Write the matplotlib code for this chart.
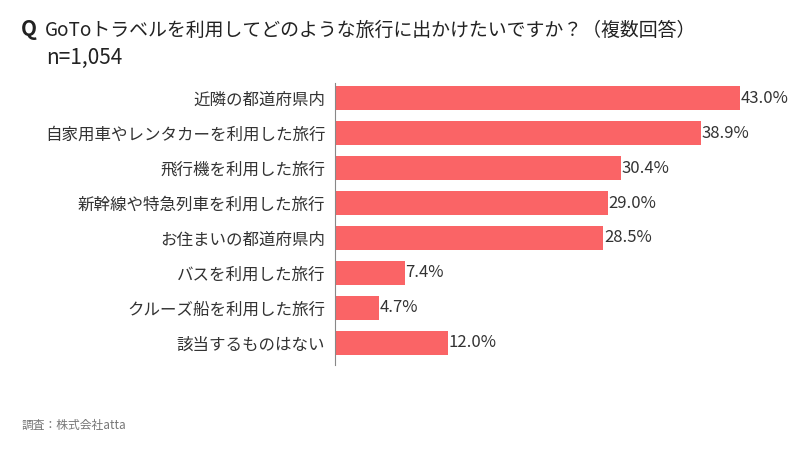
import matplotlib
matplotlib.use('Agg')
import matplotlib.pyplot as plt

plt.rcParams['font.family'] = ['Noto Sans CJK JP', 'DejaVu Sans']

categories = ['近隣の都道府県内', '自家用車やレンタカーを利用した旅行', '飛行機を利用した旅行',
              '新幹線や特急列車を利用した旅行', 'お住まいの都道府県内', 'バスを利用した旅行',
              'クルーズ船を利用した旅行', '該当するものはない']
values = [43.0, 38.9, 30.4, 29.0, 28.5, 7.4, 4.7, 12.0]

W, H = 800, 451
fig = plt.figure(figsize=(8, 4.51), dpi=100)
# axes placed in pixel coordinates: x 335..760, y 83..365
ax = fig.add_axes([335 / W, 1 - 365 / H, 425 / W, 282 / H])

pos = list(range(len(categories)))
ax.barh(pos, values, height=0.69, color='#FA6466')
for p, v in zip(pos, values):
    ax.text(v + 0.05, p, f'{v:.1f}%', va='center', ha='left', fontsize=12, color='#333333')

ax.set_xlim(0, 425 / 9.42)
ax.set_ylim(7.63, -0.43)
ax.set_yticks(pos)
ax.set_yticklabels(categories, fontsize=11.9, color='#333333')
ax.tick_params(axis='y', length=0, pad=7)
ax.set_xticks([])
for s in ['top', 'right', 'bottom']:
    ax.spines[s].set_visible(False)
ax.spines['left'].set_color('#888888')
ax.spines['left'].set_linewidth(0.8)

fig.text(21 / W, 1 - 30 / H, 'Q', fontsize=15, fontweight='bold', va='center', color='#222222')
fig.text(45 / W, 1 - 30 / H, 'GoToトラベルを利用してどのような旅行に出かけたいですか？（複数回答）',
         fontsize=13.6, va='center', color='#222222')
fig.text(46 / W, 1 - 58 / H, 'n=1,054', fontsize=15, va='center', color='#222222')
fig.text(22 / W, 1 - 425 / H, '調査：株式会社atta', fontsize=8.5, va='center', color='#777777')

fig.savefig('out.png', dpi=100, facecolor='white')
